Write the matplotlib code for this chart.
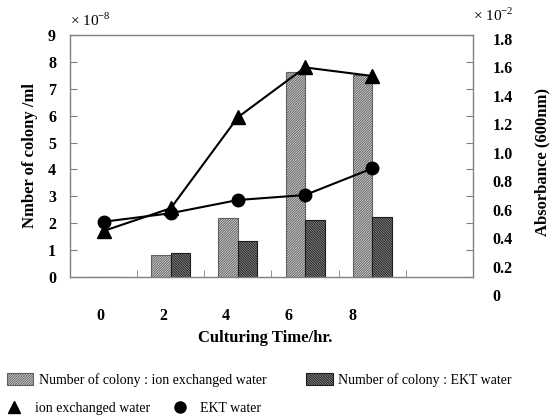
import numpy as np
import matplotlib
matplotlib.use('Agg')
import matplotlib.pyplot as plt
from matplotlib.lines import Line2D

plt.rcParams['font.family'] = ['Liberation Serif', 'DejaVu Serif']
plt.rcParams['mathtext.fontset'] = 'custom'
plt.rcParams['mathtext.rm'] = 'Liberation Serif'
plt.rcParams['hatch.linewidth'] = 0.7

# Daten
hours = ['0', '2', '4', '6', '8']
colony_ion = [0, 0.82, 2.2, 7.62, 7.52]      # x 10^-8
colony_ekt = [0, 0.9, 1.34, 2.12, 2.24]
absorb_ion = [0.45, 0.61, 1.25, 1.60, 1.54]   # x 10^-2
absorb_ekt = [0.515, 0.575, 0.668, 0.703, 0.89]

# Lage der x-Beschriftungen (wie im Original etwas verschoben)
label_pos = [-0.05, 0.885, 1.82, 2.76, 3.70]

W, H = 553, 415
fig = plt.figure(figsize=(W / 100, H / 100), dpi=100)
grey = '#808080'

# Hauptachse: Balken
ax = fig.add_axes([70 / W, 1 - 277 / H, 403 / W, 242 / H])
x = np.arange(len(hours))
bw = 0.29
b1 = ax.bar(x - bw / 2, colony_ion, bw, facecolor='#e4e4e4', edgecolor='#606060',
            hatch='/' * 14, linewidth=0.8)
b2 = ax.bar(x + bw / 2, colony_ekt, bw, facecolor='#9a9a9a', edgecolor='#1e1e1e',
            hatch='\\' * 14, linewidth=0.8)
ax.set_xlim(-0.5, 5.5)
ax.set_ylim(0, 9)
ax.set_yticks(range(10))
ax.tick_params(axis='y', which='both', left=True, right=True, direction='in',
               length=5, color=grey, labelsize=11.5, pad=10)
for t in ax.get_yticklabels():
    t.set_fontweight('bold')

ax.set_xticks(label_pos)
ax.set_xticklabels(hours, fontsize=11.5, fontweight='bold')
ax.set_xticks(np.arange(0.5, 5, 1.0), minor=True)
ax.tick_params(axis='x', which='major', length=0, pad=22)
ax.tick_params(axis='x', which='minor', direction='in', length=5, color=grey)
for s in ax.spines.values():
    s.set_color(grey)
    s.set_linewidth(1.0)

ax.set_ylabel('Nmber of colony /ml', fontsize=12, fontweight='bold')
ax.yaxis.set_label_coords(-0.079, 0.5)
ax.set_xlabel('Culturing Time/hr.', fontsize=12, fontweight='bold')
ax.xaxis.set_label_coords(0.485, -0.22)

# Zweite Achse: Absorbanz
ax2 = fig.add_axes([70 / W, 1 - 295 / H, 403 / W, 256 / H])
ax2.patch.set_visible(False)
for s in ax2.spines.values():
    s.set_visible(False)
ax2.set_xlim(-0.5, 5.5)
ax2.set_ylim(0, 1.8)
ax2.set_xticks([])
ax2.yaxis.tick_right()
ax2.set_yticks(np.arange(0, 1.81, 0.2))
ax2.set_yticklabels(['0'] + ['%.1f' % v for v in np.arange(0.2, 1.81, 0.2)])
ax2.tick_params(axis='y', length=0, labelsize=11.5, pad=14)
for t in ax2.get_yticklabels():
    t.set_fontweight('bold')
ax2.plot(x, absorb_ion, color='black', marker='^', markersize=9.5, linewidth=1.5,
         clip_on=False)
ax2.plot(x, absorb_ekt, color='black', marker='o', markersize=9, linewidth=1.5,
         clip_on=False)

fig.text(542 / W, 1 - 162 / H, 'Absorbance (600nm)', rotation=90, fontsize=12,
         fontweight='bold', ha='center', va='center')

# Skalenfaktoren
fig.text(70 / W, 1 - 20 / H, '× 10$^{\\mathrm{-8}}$', fontsize=11, va='center')
fig.text(473 / W, 1 - 15 / H, '× 10$^{\\mathrm{-2}}$', fontsize=11, va='center')

# Legenden
fig.legend([b1, b2], ['Number of colony : ion exchanged water',
                      'Number of colony : EKT water'],
           loc='center left', bbox_to_anchor=(7 / W, 1 - 380 / H), ncol=2,
           frameon=False, fontsize=10, handlelength=1.9, handleheight=1.0,
           handletextpad=0.4, columnspacing=2.85, borderpad=0, borderaxespad=0)
h_tri = Line2D([], [], color='black', marker='^', linestyle='none', markersize=8)
h_cir = Line2D([], [], color='black', marker='o', linestyle='none', markersize=8)
fig.legend([h_tri, h_cir], ['ion exchanged water', 'EKT water'],
           loc='center left', bbox_to_anchor=(4 / W, 1 - 408 / H), ncol=2,
           frameon=False, fontsize=10, handlelength=1.5, handletextpad=0.7,
           columnspacing=1.45, borderpad=0, borderaxespad=0)

fig.savefig('out.png', dpi=100)
